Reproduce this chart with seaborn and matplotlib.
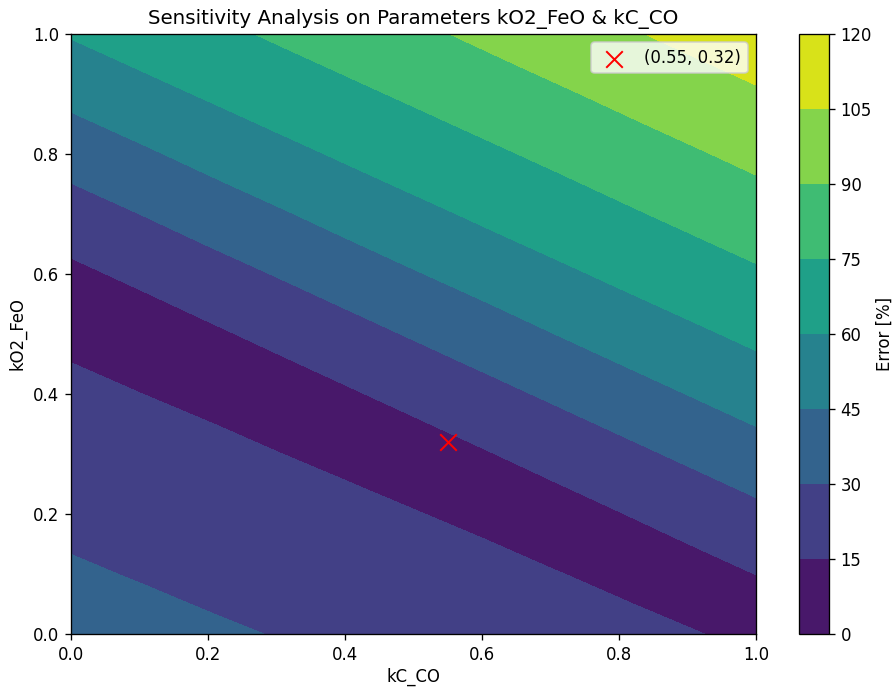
import numpy as np
import matplotlib
matplotlib.use("Agg")
import matplotlib.pyplot as plt
import seaborn as sns

# grid positions of the sensitivity sweep
kc_co = [0.0, 0.1, 0.2, 0.3, 0.4, 0.5, 0.6, 0.7, 0.8, 0.9, 1.0]
ko2_feo = [0.00, 0.05, 0.10, 0.15, 0.20, 0.25, 0.30, 0.35, 0.40, 0.45, 0.50,
           0.55, 0.60, 0.65, 0.70, 0.75, 0.80, 0.85, 0.90, 0.95, 1.00]

# error [%], one list per kC_CO column (bottom -> top)
err_x00 = [36.2, 33.8, 31.5, 29.2, 26.8, 24.5, 22.1, 19.8, 17.4, 15.1, 12.8,
           10.4, 11.8, 17.8, 23.8, 29.8, 36.1, 42.5, 48.8, 55.0, 61.0]
err_x01 = [34.0, 31.7, 29.3, 26.9, 24.6, 22.2, 19.9, 17.5, 15.1, 12.8, 10.4,
           12.1, 18.1, 24.0, 30.0, 36.4, 42.7, 49.0, 55.3, 61.2, 66.2]
err_x02 = [31.8, 29.4, 27.1, 24.7, 22.3, 19.9, 17.6, 15.2, 12.8, 10.4, 12.5,
           18.5, 24.4, 30.4, 36.7, 43.1, 49.3, 55.5, 61.4, 66.4, 71.4]
err_x03 = [29.6, 27.2, 24.8, 22.4, 20.0, 17.6, 15.2, 12.9, 10.5, 12.9, 18.8,
           24.7, 30.6, 37.0, 43.3, 49.6, 55.8, 61.6, 66.6, 71.7, 76.7]
err_x04 = [27.3, 24.9, 22.5, 20.1, 17.7, 15.3, 12.9, 10.5, 13.2, 19.1, 25.0,
           30.9, 37.3, 43.7, 49.9, 56.1, 61.8, 66.8, 71.9, 76.9, 81.9]
err_x05 = [25.0, 22.6, 20.2, 17.8, 15.4, 12.9, 10.5, 13.5, 19.4, 25.3, 31.2,
           37.6, 44.0, 50.2, 56.3, 62.0, 67.0, 72.1, 77.1, 82.2, 87.2]
err_x06 = [22.7, 20.3, 17.9, 15.5, 13.0, 10.6, 13.8, 19.7, 25.5, 31.5, 37.9,
           44.2, 50.4, 56.6, 62.2, 67.3, 72.3, 77.3, 82.4, 87.5, 92.5]
err_x07 = [20.4, 17.9, 15.5, 13.0, 10.6, 14.2, 20.0, 25.8, 31.8, 38.2, 44.6,
           50.7, 56.8, 62.4, 67.5, 72.5, 77.5, 82.6, 87.7, 92.8, 97.8]
err_x08 = [18.0, 15.5, 13.1, 10.6, 14.5, 20.3, 26.1, 32.1, 38.5, 44.9, 51.0,
           57.1, 62.6, 67.7, 72.8, 77.8, 82.9, 88.0, 93.0, 98.0, 103.0]
err_x09 = [15.6, 13.1, 10.6, 14.9, 20.7, 26.4, 32.4, 38.8, 45.2, 51.3, 57.3,
           62.8, 67.9, 73.0, 78.1, 83.1, 88.2, 93.3, 98.3, 103.3, 108.3]
err_x10 = [13.2, 10.7, 15.1, 21.0, 26.7, 32.7, 39.1, 45.5, 51.5, 57.6, 63.0,
           68.1, 73.2, 78.3, 83.4, 88.5, 93.5, 98.5, 103.5, 108.5, 113.5]

levels = [0, 15, 30, 45, 60, 75, 90, 105, 120]
best_point = (0.55, 0.32)

err = np.array([err_x00, err_x01, err_x02, err_x03, err_x04, err_x05,
                err_x06, err_x07, err_x08, err_x09, err_x10]).T

dpi = 119
fig = plt.figure(figsize=(893 / dpi, 687 / dpi), dpi=dpi)
ax = fig.add_axes([0.0795, 0.0771, 0.767, 0.8734])
cax = fig.add_axes([0.8947, 0.0771, 0.0336, 0.8734])

cmap = sns.color_palette("viridis", as_cmap=True)
cs = ax.contourf(kc_co, ko2_feo, err, levels=levels, cmap=cmap)

# optimum found by the fit
sns.scatterplot(x=[best_point[0]], y=[best_point[1]], marker="x", color="red",
                s=100, linewidth=1.2, label="(%.2f, %.2f)" % best_point, ax=ax)

ax.set_xlim(0, 1)
ax.set_ylim(0, 1)
ax.set_xlabel("kC_CO", labelpad=2.5)
ax.set_ylabel("kO2_FeO")
ax.set_title("Sensitivity Analysis on Parameters kO2_FeO & kC_CO")
ax.legend(loc="upper right")

cb = fig.colorbar(cs, cax=cax)
cb.set_label("Error [%]", labelpad=2.5)

fig.savefig("out.png", dpi=dpi)
